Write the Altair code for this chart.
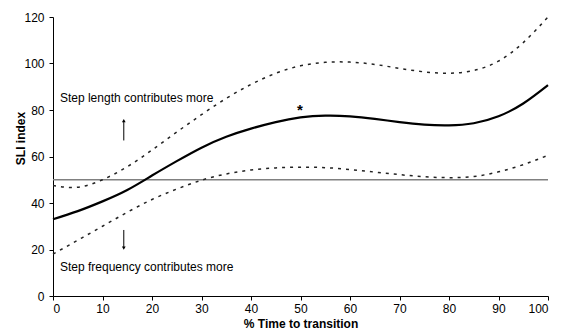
import altair as alt
import pandas as pd

time = [0, 5, 10, 15, 20, 25, 30, 35, 40, 45, 50, 55, 60, 65, 70, 75, 80, 85, 90, 95, 100]
mean = [33, 36.5, 40.7, 45.6, 51.8, 58, 63.8, 68.5, 72, 74.8, 76.8, 77.6, 77.3, 76.2, 74.8, 73.7, 73.4, 74.3, 77.3, 82.8, 90.7]
upper = [47.5, 46.8, 50, 55.6, 62.8, 70.5, 78, 85, 91, 95.8, 99, 100.5, 100.6, 99.6, 97.9, 96.4, 95.8, 97, 101, 109, 120]
lower = [18, 24, 30, 36, 41.5, 46, 49.8, 52.5, 54.2, 55.1, 55.4, 55.2, 54.4, 53.3, 52.2, 51.3, 50.9, 51.4, 53.4, 56.5, 60.5]

ref_level = [50]
label_text = ["Step length contributes more", "Step frequency contributes more"]
label_x = [1.4, 1.4]
label_y = [85.3, 12.6]
star_x = [49.9]
star_y = [78.0]
arrow_x = [14.3, 14.3]
arrow_from = [66.9, 28.4]
arrow_to = [75.0, 21.0]
arrow_tip = [75.4, 20.6]
arrow_shape = ["triangle-up", "triangle-down"]

df = pd.DataFrame({"time": time, "mean": mean, "upper": upper, "lower": lower})
lab = pd.DataFrame({"x": label_x, "y": label_y, "t": label_text})
star = pd.DataFrame({"x": star_x, "y": star_y, "t": ["*"]})
arr = pd.DataFrame({"x": arrow_x, "y": arrow_from, "y2": arrow_to, "tip": arrow_tip, "shape": arrow_shape})
ref = pd.DataFrame({"y": ref_level})

FONT = "Liberation Sans"

xs = alt.Scale(domain=[0, 100], nice=False)
ys = alt.Scale(domain=[0, 120], nice=False)

xax = alt.Axis(values=list(range(0, 101, 10)), title="% Time to transition", grid=False,
               labelFontSize=12, titleFontSize=12, titleFontWeight="bold", labelPadding=3,
               titlePadding=4, tickSize=4, labelFont=FONT, titleFont=FONT)
yax = alt.Axis(values=list(range(0, 121, 20)), title="SLI index", grid=False,
               labelFontSize=12, titleFontSize=12, titleFontWeight="bold", labelPadding=5,
               tickSize=4, labelFont=FONT, titleFont=FONT, titleX=-26, titleY=121)

base = alt.Chart(df)

mean_line = base.mark_line(color="black", strokeWidth=2.2, interpolate="natural").encode(
    x=alt.X("time:Q", scale=xs, axis=xax),
    y=alt.Y("mean:Q", scale=ys, axis=yax),
)
upper_line = base.mark_line(color="#222222", strokeWidth=1.5, strokeDash=[3, 5], interpolate="natural").encode(
    x=alt.X("time:Q", scale=xs), y=alt.Y("upper:Q", scale=ys)
)
lower_line = base.mark_line(color="#222222", strokeWidth=1.5, strokeDash=[3, 5], interpolate="natural").encode(
    x=alt.X("time:Q", scale=xs), y=alt.Y("lower:Q", scale=ys)
)
ref_rule = alt.Chart(ref).mark_rule(color="#808080", strokeWidth=1.3).encode(
    y=alt.Y("y:Q", scale=ys)
)
labels = alt.Chart(lab).mark_text(align="left", baseline="middle", fontSize=12, font=FONT, color="black").encode(
    x=alt.X("x:Q", scale=xs), y=alt.Y("y:Q", scale=ys), text="t:N"
)
stars = alt.Chart(star).mark_text(align="center", baseline="alphabetic", fontSize=15, fontWeight="bold",
                                  font=FONT, color="black").encode(
    x=alt.X("x:Q", scale=xs), y=alt.Y("y:Q", scale=ys), text="t:N"
)
shafts = alt.Chart(arr).mark_rule(color="black", strokeWidth=1).encode(
    x=alt.X("x:Q", scale=xs), y=alt.Y("y:Q", scale=ys), y2="y2:Q"
)
heads = alt.Chart(arr).mark_point(filled=True, color="black", size=14, opacity=1).encode(
    x=alt.X("x:Q", scale=xs), y=alt.Y("tip:Q", scale=ys),
    shape=alt.Shape("shape:N", scale=None)
)

chart = alt.layer(ref_rule, upper_line, lower_line, mean_line, labels, stars, shafts, heads).properties(
    width=495, height=279,
    autosize=alt.AutoSizeParams(type="none"),
    padding={"left": 53, "top": 17, "right": 16, "bottom": 38},
    background="white",
).configure_view(stroke=None).configure_axis(
    domainColor="black", tickColor="black", labelColor="black", titleColor="black"
)

chart.save("out.html", embed_options={"renderer": "svg", "actions": False})
